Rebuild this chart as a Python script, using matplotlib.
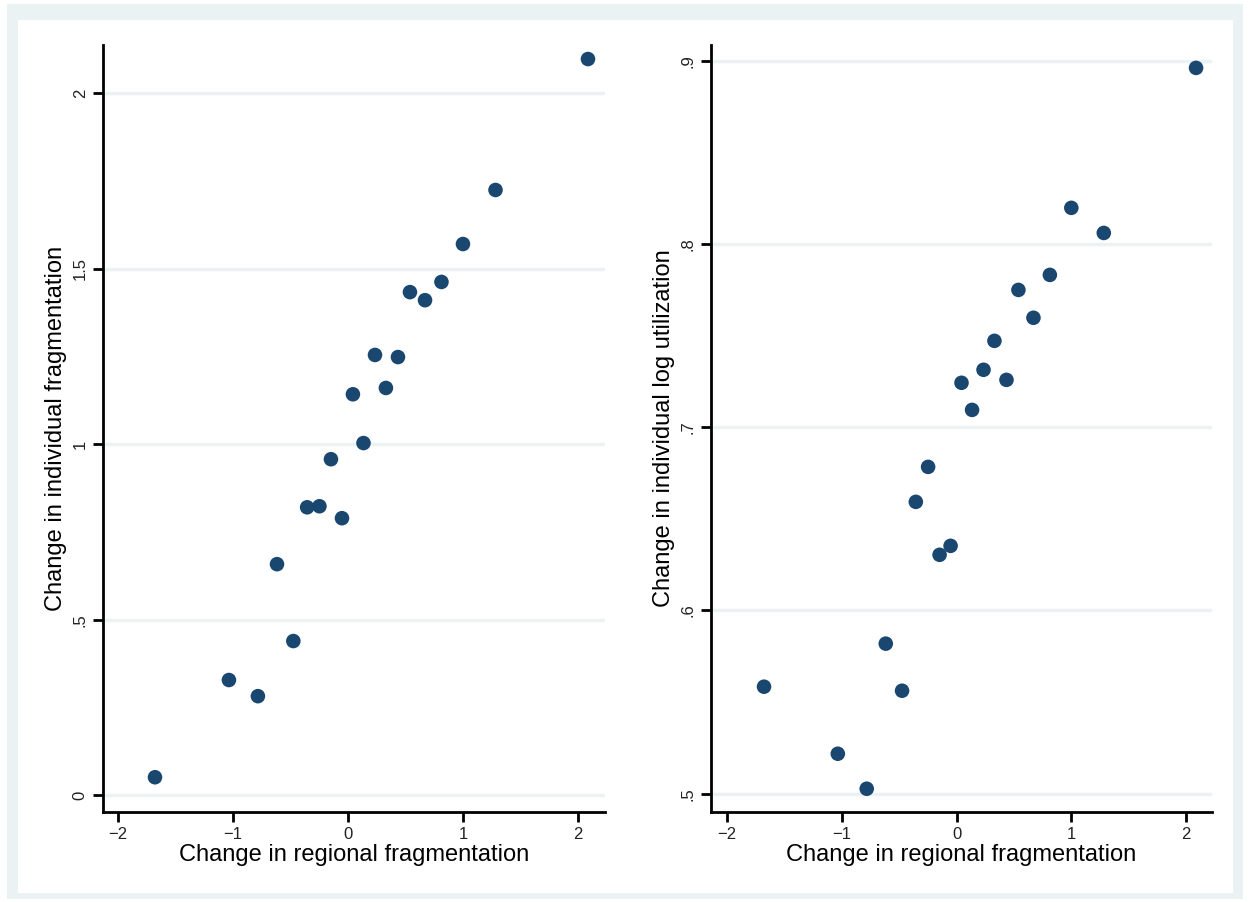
import matplotlib
matplotlib.use("Agg")
import matplotlib.pyplot as plt
from matplotlib.patches import Rectangle

plt.rcParams['font.family'] = ['Liberation Sans', 'DejaVu Sans']

# Data
regional_frag = [-1.678, -1.035, -0.783, -0.617, -0.475, -0.355, -0.248, -0.148, -0.052,
                 0.043, 0.135, 0.235, 0.330, 0.435, 0.539, 0.670, 0.813, 1.000, 1.283, 2.087]
indiv_frag = [0.051, 0.328, 0.282, 0.658, 0.439, 0.820, 0.823, 0.957, 0.789,
              1.142, 1.003, 1.254, 1.160, 1.248, 1.433, 1.410, 1.462, 1.570, 1.724, 2.097]
indiv_logutil = [0.5584, 0.5218, 0.5027, 0.5819, 0.5562, 0.6593, 0.6784, 0.6304, 0.6353,
                 0.7243, 0.7095, 0.7314, 0.7472, 0.7259, 0.7750, 0.7598, 0.7832, 0.8198, 0.8061, 0.8962]

x_ticks = [-2, -1, 0, 1, 2]
x_ticklabels = ['\u22122', '\u22121', '0', '1', '2']
left_yticks = [0, 0.5, 1, 1.5, 2]
left_yticklabels = ['0', '.5', '1', '1.5', '2']
right_yticks = [0.5, 0.6, 0.7, 0.8, 0.9]
right_yticklabels = ['.5', '.6', '.7', '.8', '.9']

W, H = 1250, 902
fig = plt.figure(figsize=(W / 100, H / 100), dpi=100)
fig.patch.set_facecolor('white')

band = '#eaf2f3'
fig.patches.append(Rectangle((7 / W, 1 - 899 / H), (1243 - 7) / W, (899 - 4) / H,
                             transform=fig.transFigure, facecolor=band, edgecolor='none', zorder=-10))
fig.patches.append(Rectangle((18 / W, 1 - 893 / H), (1233 - 18) / W, (893 - 20) / H,
                             transform=fig.transFigure, facecolor='white', edgecolor='none', zorder=-9))

navy = '#1a476f'

def style(ax, xlim, ylim, yticks, yticklabels, ylabel):
    ax.set_facecolor('none')
    ax.set_xlim(*xlim)
    ax.set_ylim(*ylim)
    ax.set_xticks(x_ticks)
    ax.set_xticklabels(x_ticklabels)
    ax.set_yticks(yticks)
    ax.set_yticklabels(yticklabels, rotation=90, va='center')
    for s in ['top', 'right']:
        ax.spines[s].set_visible(False)
    for s in ['left', 'bottom']:
        ax.spines[s].set_linewidth(2)
        ax.spines[s].set_color('black')
    ax.tick_params(axis='both', direction='out', length=7, width=2, labelsize=12,
                   colors='black', labelcolor='#222222', pad=4)
    ax.grid(axis='y', color=band, linewidth=2.5, zorder=0)
    ax.set_axisbelow(True)
    ax.set_xlabel('Change in regional fragmentation', fontsize=17, labelpad=1)
    ax.set_ylabel(ylabel, fontsize=17, labelpad=4)

ax1 = fig.add_axes([103 / W, 1 - 812 / H, (605 - 103) / W, (812 - 45) / H])
ax1.scatter(regional_frag, indiv_frag, s=110, color=navy, edgecolors='none', zorder=3)
style(ax1, (-2.13, 2.235), (-0.048, 2.137), left_yticks, left_yticklabels,
      'Change in individual fragmentation')

ax2 = fig.add_axes([711 / W, 1 - 812 / H, (1212 - 711) / W, (812 - 45) / H])
ax2.scatter(regional_frag, indiv_logutil, s=110, color=navy, edgecolors='none', zorder=3)
style(ax2, (-2.14, 2.226), (0.490, 0.9087), right_yticks, right_yticklabels,
      'Change in individual log utilization')

fig.savefig('out.png', dpi=100)
